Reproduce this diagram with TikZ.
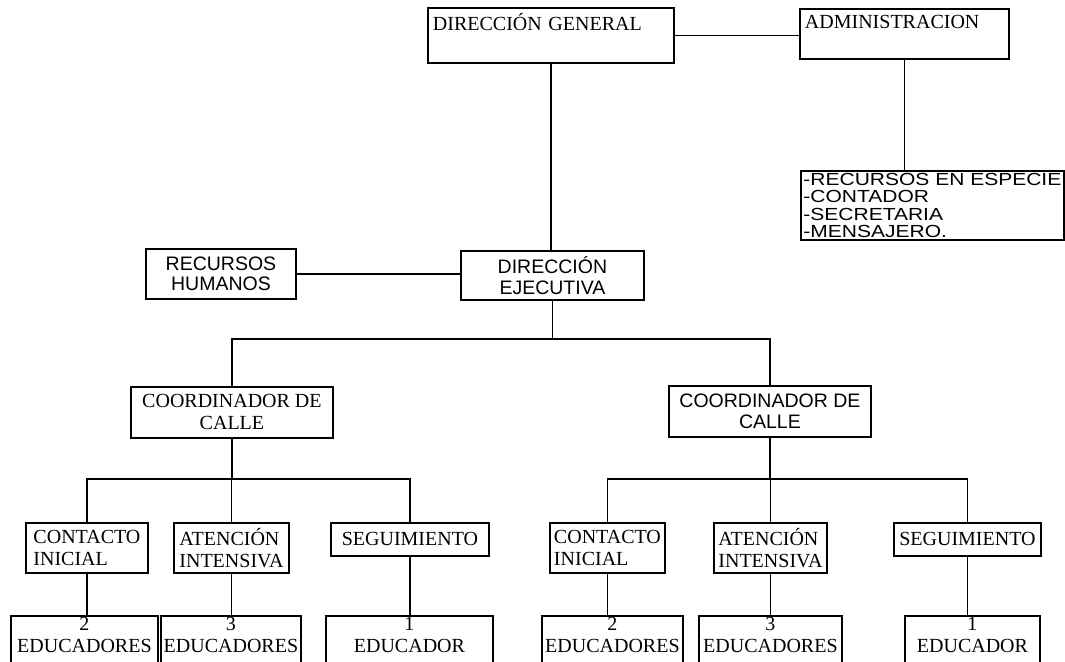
\documentclass[tikz,border=0pt]{standalone}
\usepackage{fontspec}
\setmainfont{Liberation Serif}
\setsansfont{Liberation Sans}
\newfontfamily\listfont[FakeStretch=1.2]{Liberation Sans}
\usetikzlibrary{positioning}

\begin{document}
\begin{tikzpicture}[x=1pt,y=-1pt,line width=1.5pt,
    box/.style={draw,line width=1.9pt,anchor=north west,inner sep=0pt},
    rmbox/.style={box,font=\rmfamily\fontsize{20}{22}\selectfont},
    sfbox/.style={box,font=\sffamily\fontsize{19.5}{20.5}\selectfont},
    edubox/.style={rmbox,align=center,text width=135pt,
        text height=15pt,text depth=50pt}]

  \useasboundingbox (0,0) rectangle (1065,661);
  \clip (0,0) rectangle (1065,661);

  % cabeza
  \node[rmbox,align=left,minimum width=246pt,text width=236pt,
        text height=23pt,text depth=32pt] (dg) at (427,7) {DIRECCIÓN GENERAL};
  \node[rmbox,align=left,minimum width=209pt,text width=199pt,
        text height=20pt,text depth=30pt] (adm) at (799,8) {ADMINISTRACION};
  \node[box,align=left,minimum width=263pt,minimum height=69pt,text width=258pt,
        font=\listfont\fontsize{17.5}{17.3}\selectfont] (lst) at (800,170)
        {-RECURSOS EN ESPECIE\\-CONTADOR\\-SECRETARIA\\-MENSAJERO.};

  \node[sfbox,align=center,minimum width=150pt,minimum height=50pt] (rh) at (145,248) {RECURSOS\\HUMANOS};
  \node[sfbox,align=center,minimum width=183pt,minimum height=49pt] (de) at (460,250) {DIRECCIÓN\\EJECUTIVA};

  % coordinadores
  \node[rmbox,align=center,minimum width=202pt,minimum height=51pt] (cl) at (130,386) {COORDINADOR DE\\CALLE};
  \node[sfbox,align=center,minimum width=202pt,minimum height=51pt] (cr) at (668,385) {COORDINADOR DE\\CALLE};

  % areas
  \node[rmbox,align=left,minimum width=122pt,minimum height=50pt] (cil) at (25,522) {CONTACTO\\INICIAL};
  \node[rmbox,align=left,minimum width=115pt,minimum height=50pt] (ail) at (173,522) {ATENCIÓN\\INTENSIVA};
  \node[rmbox,minimum width=158pt,minimum height=33pt] (sgl) at (330,522) {SEGUIMIENTO};
  \node[rmbox,align=left,minimum width=115pt,minimum height=50pt] (cir) at (549,522) {CONTACTO\\INICIAL};
  \node[rmbox,align=left,minimum width=113pt,minimum height=50pt] (air) at (713,522) {ATENCIÓN\\INTENSIVA};
  \node[rmbox,minimum width=147pt,minimum height=33pt] (sgr) at (893,522) {SEGUIMIENTO};

  % educadores
  \node[edubox,minimum width=147pt] (edl1) at (10,615) {2\\EDUCADORES};
  \node[edubox,minimum width=140pt] (edl2) at (160,615) {3\\EDUCADORES};
  \node[edubox,minimum width=167pt] (edl3) at (325,615) {1\\EDUCADOR};
  \node[edubox,minimum width=141pt] (edr1) at (541,615) {2\\EDUCADORES};
  \node[edubox,minimum width=143pt] (edr2) at (698,615) {3\\EDUCADORES};
  \node[edubox,minimum width=135pt] (edr3) at (904,615) {1\\EDUCADOR};

  % lineas
  \draw (dg.east) -- (dg.east -| adm.west);
  \draw (dg.south) -- (dg.south |- de.north);
  \draw (adm.south) -- (adm.south |- lst.north);
  \draw (rh.east) -- (rh.east -| de.west);

  \draw (de.south) -- ++(0,38) coordinate (bar1);
  \draw (cl.north) |- (bar1) -| (cr.north);

  \draw (cl.south) -- ++(0,40) coordinate (bar2);
  \draw (cil.north) |- (bar2) -| (sgl.north);
  \draw (ail.north) -- (ail.north |- bar2);
  \draw (cr.south) -- ++(0,41) coordinate (bar3);
  \draw (cir.north) |- (bar3) -| (sgr.north);
  \draw (air.north) -- (air.north |- bar3);

  \foreach \a/\b in {cil/edl1,ail/edl2,sgl/edl3,cir/edr1,air/edr2,sgr/edr3}
    \draw (\a.south) -- (\a.south |- \b.north);
\end{tikzpicture}
\end{document}
